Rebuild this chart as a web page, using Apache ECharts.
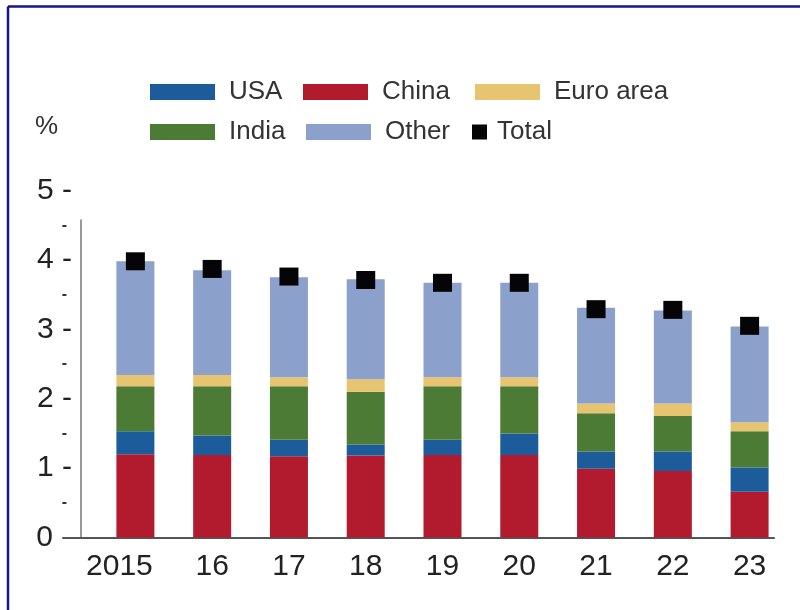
<!DOCTYPE html>
<html>
<head>
<meta charset="utf-8">
<script src="https://cdn.jsdelivr.net/npm/echarts@6/dist/echarts.min.js"></script>
<style>
  html, body { margin: 0; padding: 0; background: #ffffff; }
  #chart { width: 800px; height: 610px; }
</style>
</head>
<body>
<div id="chart"></div>
<script>
// Contributions to world growth, percentage points
const years    = ['2015', '16', '17', '18', '19', '20', '21', '22', '23'];
const china    = [1.20, 1.19, 1.17, 1.18, 1.19, 1.19, 0.99, 0.96, 0.66];
const usa      = [0.33, 0.28, 0.24, 0.16, 0.22, 0.31, 0.25, 0.28, 0.35];
const india    = [0.65, 0.71, 0.77, 0.76, 0.77, 0.68, 0.55, 0.51, 0.52];
const euroArea = [0.16, 0.16, 0.13, 0.18, 0.13, 0.13, 0.14, 0.18, 0.13];
const other    = [1.64, 1.51, 1.44, 1.44, 1.36, 1.36, 1.38, 1.34, 1.38];
const total    = [3.98, 3.87, 3.76, 3.71, 3.67, 3.67, 3.29, 3.28, 3.05];

const FONT = '"Liberation Sans", Arial, sans-serif';
const COLORS = {
  'USA': '#1d5c9b',
  'China': '#b21b2e',
  'Euro area': '#e6c470',
  'India': '#4c7b36',
  'Other': '#8ca0cc',
  'Total': '#050508'
};

// Stacking order from the bottom of each bar upwards
const stackOrder = [
  ['China', china],
  ['USA', usa],
  ['India', india],
  ['Euro area', euroArea],
  ['Other', other]
];

// One legend box per entry so each sits in its own column
const ROW1 = 79, ROW2 = 119;
const legendSlots = [
  { name: 'USA',       left: 150, top: ROW1 },
  { name: 'China',     left: 303, top: ROW1 },
  { name: 'Euro area', left: 475, top: ROW1 },
  { name: 'India',     left: 150, top: ROW2 },
  { name: 'Other',     left: 306, top: ROW2 },
  { name: 'Total',     left: 472, top: ROW2, w: 15, h: 15 }
];

// The four-digit first year is set slightly left of its bar
const yearLabels = years.map((y, i) => i === 0
  ? { value: y, textStyle: { padding: [0, 32, 0, 0] } }
  : y);

const chart = echarts.init(document.getElementById('chart'), null, { renderer: 'canvas' });

const barSeries = stackOrder.map(([name, values]) => ({
  name: name,
  type: 'bar',
  stack: 'growth',
  xAxisIndex: 0,
  yAxisIndex: 0,
  barWidth: 38,
  itemStyle: { color: COLORS[name] },
  emphasis: { disabled: true },
  data: values
}));

const option = {
  animation: false,
  backgroundColor: '#ffffff',
  textStyle: { fontFamily: FONT },
  title: {
    text: '%',
    left: 35,
    top: 114,
    padding: 0,
    textStyle: { fontFamily: FONT, fontSize: 26, fontWeight: 'normal', color: '#333333' }
  },
  legend: legendSlots.map(s => ({
    data: [s.name],
    left: s.left,
    top: s.top,
    padding: 0,
    itemGap: 0,
    icon: 'rect',
    itemWidth: s.w || 65,
    itemHeight: s.h || 16,
    selectedMode: false,
    itemStyle: { opacity: 1 },
    textStyle: {
      fontFamily: FONT,
      fontSize: 26,
      color: '#333333',
      padding: [0, 0, 0, s.name === 'Total' ? 5 : 9]
    }
  })),
  grid: [
    // plotting area for the bars
    { left: 97, right: 12, top: 190.5, bottom: 72.5 },
    // frame carrying the baseline and the vertical axis rule
    { left: 63, right: 26, top: 220, bottom: 72.5 }
  ],
  xAxis: [
    {
      gridIndex: 0,
      type: 'category',
      data: yearLabels,
      axisLine: { show: false },
      axisTick: { show: false },
      axisLabel: { interval: 0, fontFamily: FONT, fontSize: 30, color: '#222222', margin: 14 }
    },
    {
      gridIndex: 1,
      type: 'value',
      min: 0,
      max: 1,
      axisLine: { show: true, onZero: false, lineStyle: { color: '#555555', width: 2 } },
      axisTick: { show: false },
      axisLabel: { show: false },
      splitLine: { show: false }
    }
  ],
  yAxis: [
    {
      gridIndex: 0,
      type: 'value',
      min: 0,
      max: 5,
      interval: 0.5,
      axisLine: { show: false },
      axisTick: { show: false },
      splitLine: { show: false },
      axisLabel: {
        margin: 25,
        fontFamily: FONT,
        fontSize: 30,
        color: '#222222',
        formatter: v => {
          if (v === 0) return '{z|0}';
          if (Number.isInteger(v)) return v + ' -';
          return '{m|-}';
        },
        rich: {
          z: { fontSize: 30, color: '#222222', padding: [0, 19, 0, 0] },
          m: { fontSize: 16, fontWeight: 'bold', color: '#333333', padding: [0, 5, 0, 0] }
        }
      }
    },
    {
      gridIndex: 1,
      type: 'value',
      min: 0,
      max: 4.57,
      offset: -18,
      axisLine: { show: true, onZero: false, lineStyle: { color: '#777777', width: 1.5 } },
      axisTick: { show: false },
      axisLabel: { show: false },
      splitLine: { show: false }
    }
  ],
  graphic: [
    { type: 'line', shape: { x1: 8, y1: 6.5, x2: 800, y2: 6.5 },
      style: { stroke: '#15158c', lineWidth: 2.5 }, silent: true },
    { type: 'line', shape: { x1: 8, y1: 6.5, x2: 8, y2: 610 },
      style: { stroke: '#15158c', lineWidth: 2.5 }, silent: true }
  ],
  series: barSeries.concat([{
    name: 'Total',
    type: 'scatter',
    xAxisIndex: 0,
    yAxisIndex: 0,
    symbol: 'rect',
    symbolSize: [19, 18],
    itemStyle: { color: COLORS['Total'], opacity: 1 },
    z: 5,
    emphasis: { disabled: true },
    data: total
  }])
};

chart.setOption(option);
</script>
</body>
</html>
